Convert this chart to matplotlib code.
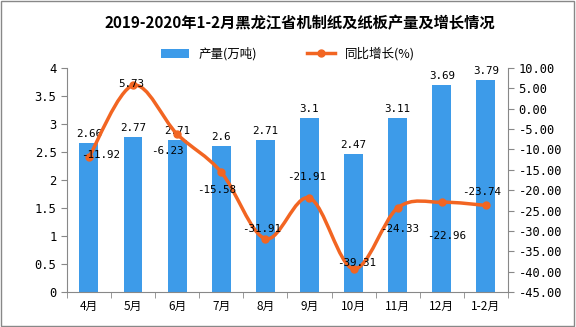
import matplotlib
matplotlib.use("Agg")
import matplotlib.pyplot as plt
import numpy as np
from matplotlib.path import Path
from matplotlib.patches import PathPatch, Rectangle

plt.rcParams['font.family'] = ['Noto Sans CJK SC', 'DejaVu Sans']
mono = ['DejaVu Sans Mono', 'Noto Sans CJK SC']

months = ["4月", "5月", "6月", "7月", "8月", "9月", "10月", "11月", "12月", "1-2月"]
output = [2.66, 2.77, 2.71, 2.6, 2.71, 3.1, 2.47, 3.11, 3.69, 3.79]
growth = [-11.92, 5.73, -6.23, -15.58, -31.91, -21.91, -39.31, -24.33, -22.96, -23.74]

# label offsets for the growth labels (points)
g_off = [(8.5, 2), (-1, 1), (-7, -12), (-3, -13), (-3, 7), (-2, 15), (2, 4), (1.5, -15), (3.5, -24), (-3, 10)]

bar_c = "#3d9be9"
line_c = "#f26522"
grey = "#888888"

fig = plt.figure(figsize=(5.76, 3.27), dpi=100)
ax = fig.add_axes([0.116, 0.107, 0.766, 0.685])
ax2 = ax.twinx()

x = np.arange(len(months))
ax.bar(x, output, width=0.43, color=bar_c, zorder=2, label="产量(万吨)")
for xi, v in zip(x, output):
    ax.annotate(f"{v:g}", (xi, v), xytext=(0, 3), textcoords="offset points",
                ha="center", va="bottom", fontsize=7.8, family=mono)

ax.set_xlim(-0.5, len(months) - 0.5)
ax.set_ylim(0, 4)
ax.set_yticks(np.arange(0, 4.01, 0.5))
ax.set_yticklabels([f"{t:g}" for t in np.arange(0, 4.01, 0.5)], fontsize=8.7, family=mono)
ax.set_xticks(x)
ax.set_xticklabels(months, fontsize=8.5)
ax.set_xticks(np.arange(-0.5, len(months), 1), minor=True)
ax.tick_params(axis="x", which="major", length=0, pad=6)
ax.tick_params(axis="x", which="minor", length=4, color=grey)
ax.tick_params(axis="y", length=4, color=grey)

# smooth curve through the growth points (cubic bezier, drawn by Path)
px, py = x.astype(float), np.array(growth)
verts = [(px[0], py[0])]
codes = [Path.MOVETO]
n = len(px)
for i in range(n - 1):
    p0 = (px[max(i - 1, 0)], py[max(i - 1, 0)])
    p1 = (px[i], py[i])
    p2 = (px[i + 1], py[i + 1])
    p3 = (px[min(i + 2, n - 1)], py[min(i + 2, n - 1)])
    c1 = (p1[0] + (p2[0] - p0[0]) / 6, p1[1] + (p2[1] - p0[1]) / 6)
    c2 = (p2[0] - (p3[0] - p1[0]) / 6, p2[1] - (p3[1] - p1[1]) / 6)
    verts += [c1, c2, p2]
    codes += [Path.CURVE4] * 3
ax2.add_patch(PathPatch(Path(verts, codes), facecolor="none", edgecolor=line_c, lw=2.5, zorder=3))
ax2.plot(px, py, "o", color=line_c, ms=5, zorder=4)
ln, = ax2.plot([], [], "-o", color=line_c, lw=2.5, ms=5, label="同比增长(%)")
for xi, v, off in zip(x, growth, g_off):
    ax2.annotate(f"{v:.2f}", (xi, v), xytext=off, textcoords="offset points",
                 ha="center", va="center", fontsize=7.8, family=mono, zorder=5)

ax2.set_ylim(-45, 10)
ax2.set_yticks(np.arange(-45, 10.1, 5))
ax2.set_yticklabels([f"{t:.2f}" for t in np.arange(-45, 10.1, 5)], fontsize=8.7, family=mono)
ax2.tick_params(axis="y", length=4, color=grey)

for a in (ax, ax2):
    a.spines["top"].set_visible(False)
    for s in ("left", "right", "bottom"):
        a.spines[s].set_color(grey)
ax.spines["right"].set_visible(False)
ax2.spines["left"].set_visible(False)
ax2.spines["bottom"].set_visible(False)

fig.text(0.52, 0.93, "2019-2020年1-2月黑龙江省机制纸及纸板产量及增长情况",
         ha="center", va="center", fontsize=11, fontweight="bold")
h1, l1 = ax.get_legend_handles_labels()
fig.legend(h1 + [ln], l1 + ["同比增长(%)"], loc="center", bbox_to_anchor=(0.5, 0.835),
           ncol=2, frameon=False, fontsize=9, handlelength=2.2, columnspacing=4)

fig.patches.append(Rectangle((0.002, 0.003), 0.995, 0.993, transform=fig.transFigure,
                             fill=False, edgecolor=grey, lw=1))

fig.savefig("out.png", dpi=100)
